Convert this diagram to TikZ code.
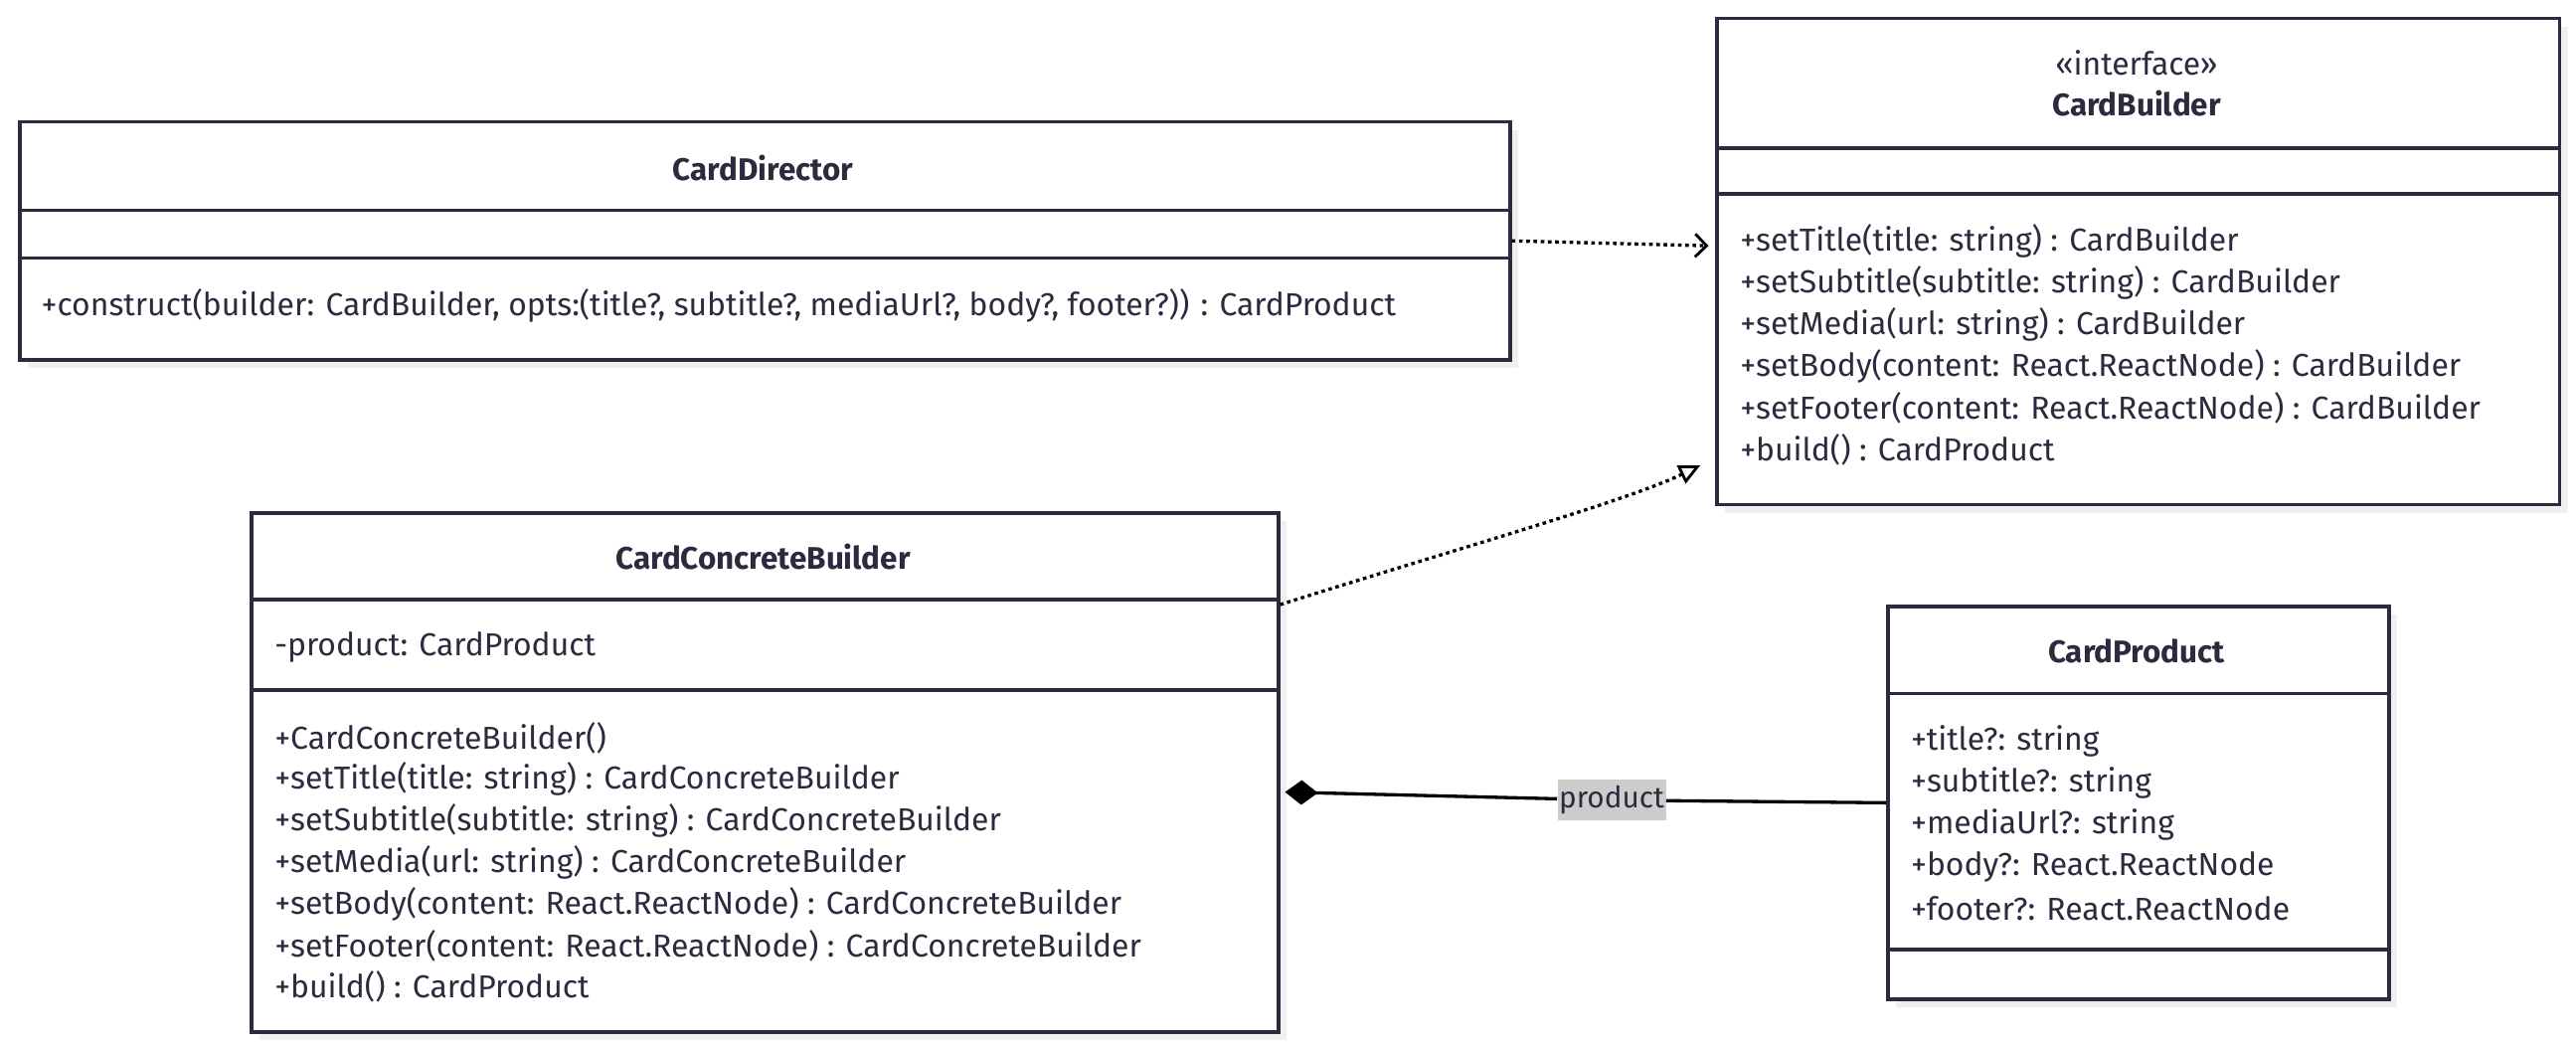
\documentclass[tikz,border=0pt]{standalone}
\usepackage{fontspec}
\setmainfont{Fira Sans}
\usetikzlibrary{arrows.meta,shadows}

\begin{document}
\begin{tikzpicture}[x=1pt,y=-1pt,
  classbox/.style={draw=ink,line width=2.2pt,fill=white,anchor=north west,inner sep=0pt,
    drop shadow={shadow xshift=5pt,shadow yshift=-5pt,fill=shade,opacity=1}},
  divider/.style={draw=ink,line width=2.2pt},
  member/.style={anchor=west,inner sep=0pt,text=ink,font=\fontsize{19.3}{22}\selectfont},
  classname/.style={member,anchor=center,font=\fontsize{19}{22}\selectfont\bfseries},
  dep/.style={black,line width=2pt,dash pattern=on 2.2pt off 2.2pt,
    -{Straight Barb[length=7pt,width=14pt,line width=1.7pt]}},
  real/.style={black,line width=2pt,dash pattern=on 2.2pt off 2.2pt,
    -{Triangle[open,length=13pt,width=12pt,line width=1.7pt,fill=white]}},
  comp/.style={black,line width=2pt},
  lbl/.style={fill=lblgray,text=ink,inner xsep=1pt,minimum height=25pt,
    font=\fontsize{18}{20}\selectfont}]
\definecolor{ink}{HTML}{2B2A3E}
\definecolor{shade}{HTML}{EFEFEF}
\definecolor{lblgray}{HTML}{CCCCCC}
\useasboundingbox (0,0) rectangle (1568,636.6);

% CardDirector
\node[classbox,minimum width=907pt,minimum height=145pt] (director) at (11,73) {};
\draw[divider] (11,128) -- +(907,0);
\draw[divider] (11,157) -- +(907,0);
\node[classname] at (464.5,102) {CardDirector};
\node[member] at (25,186) {+construct(builder: CardBuilder, opts:(title?, subtitle?, mediaUrl?, body?, footer?)) : CardProduct};

% CardBuilder
\node[classbox,minimum width=513pt,minimum height=296pt] (builder) at (1044,10) {};
\draw[divider] (1044,90) -- +(513,0);
\draw[divider] (1044,118) -- +(513,0);
\node[member,anchor=center] at (1300.5,38) {«interface»};
\node[classname] at (1300.5,63) {CardBuilder};
\foreach \m [count=\i] in {{+setTitle(title: string) : CardBuilder},
  {+setSubtitle(subtitle: string) : CardBuilder},
  {+setMedia(url: string) : CardBuilder},
  {+setBody(content: React.ReactNode) : CardBuilder},
  {+setFooter(content: React.ReactNode) : CardBuilder},
  {+build() : CardProduct}}
  {  \node[member] at (1059,{147+25.4*(\i-1)}) {\m};}

% CardConcreteBuilder
\node[classbox,minimum width=625pt,minimum height=316pt] (concrete) at (152,311) {};
\draw[divider] (152,365) -- +(625,0);
\draw[divider] (152,420) -- +(625,0);
\node[classname] at (464.5,339) {CardConcreteBuilder};
\node[member] at (167,394) {-product: CardProduct};
\foreach \m [count=\i] in {{+CardConcreteBuilder()},
  {+setTitle(title: string) : CardConcreteBuilder},
  {+setSubtitle(subtitle: string) : CardConcreteBuilder},
  {+setMedia(url: string) : CardConcreteBuilder},
  {+setBody(content: React.ReactNode) : CardConcreteBuilder},
  {+setFooter(content: React.ReactNode) : CardConcreteBuilder},
  {+build() : CardProduct}}
  {  \node[member] at (167,{449+25.3*(\i-1)}) {\m};}

% CardProduct
\node[classbox,minimum width=305pt,minimum height=239pt] (product) at (1148,368) {};
\draw[divider] (1148,422) -- +(305,0);
\draw[divider] (1148,578) -- +(305,0);
\node[classname] at (1300.5,396) {CardProduct};
\foreach \m [count=\i] in {{+title?: string},{+subtitle?: string},{+mediaUrl?: string},
  {+body?: React.ReactNode},{+footer?: React.ReactNode}}
  {  \node[member] at (1163,{451+25.5*(\i-1)}) {\m};}

% relations
\draw[dep] (director.east) -- ([xshift=-4pt,yshift=9.5pt]builder.west);
\draw[real] ([yshift=-57pt]concrete.north east) .. controls (890,333) and (990,305) .. ([xshift=-9pt,yshift=25pt]builder.south west);
\node[lbl] (plabel) at (981,487) {product};
\draw[comp,{Diamond[length=20pt,width=15pt]}-] ([xshift=3pt,yshift=-12pt]concrete.east) -- (plabel);
\draw[comp] (plabel) -- (product.west);
\end{tikzpicture}
\end{document}
